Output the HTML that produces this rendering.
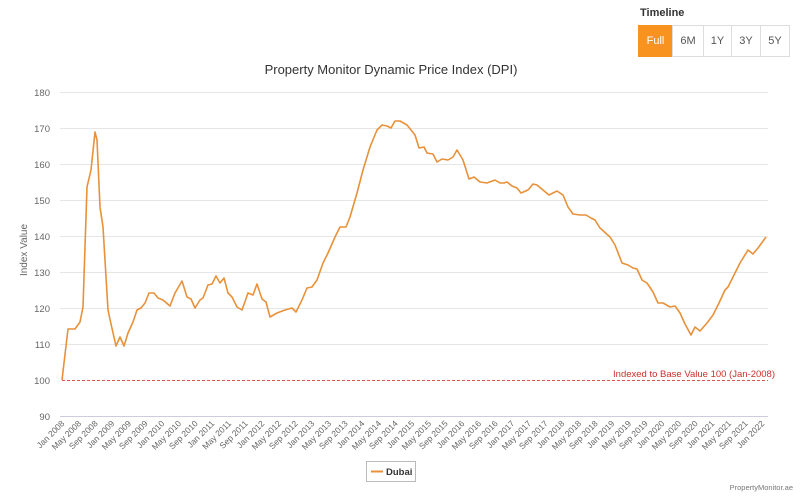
<!DOCTYPE html>
<html><head><meta charset="utf-8"><style>
body{margin:0;background:#fff;font-family:"Liberation Sans",sans-serif;}
.tl{position:absolute;left:640px;top:7px;font-size:11px;font-weight:bold;color:#333}
.btns{position:absolute;left:639px;top:25px;display:flex}
.btns div{height:30px;line-height:30px;border:1px solid #ddd;margin-left:-1px;text-align:center;font-size:11px;color:#555}
</style></head><body>
<div style="position:relative;width:800px;height:502px;overflow:hidden">
<div class="tl">Timeline</div>
<div class="btns">
<div style="width:33px;background:#f7931e;color:#fff;border-color:#f7931e">Full</div>
<div style="width:30px">6M</div><div style="width:27px">1Y</div><div style="width:28px">3Y</div><div style="width:28px">5Y</div>
</div>
<svg width="800" height="502" style="position:absolute;left:0;top:0" font-family="Liberation Sans, sans-serif">
<text x="391" y="74" text-anchor="middle" font-size="13" fill="#333">Property Monitor Dynamic Price Index (DPI)</text>
<g stroke="#e6e6e6" stroke-width="1">
<line x1="60" x2="768" y1="92.5" y2="92.5"/><line x1="60" x2="768" y1="128.5" y2="128.5"/>
<line x1="60" x2="768" y1="164.5" y2="164.5"/><line x1="60" x2="768" y1="200.5" y2="200.5"/>
<line x1="60" x2="768" y1="236.5" y2="236.5"/><line x1="60" x2="768" y1="272.5" y2="272.5"/>
<line x1="60" x2="768" y1="308.5" y2="308.5"/><line x1="60" x2="768" y1="344.5" y2="344.5"/>
<line x1="60" x2="768" y1="416.5" y2="416.5" stroke="#ccd"/>
</g>
<g font-size="9.5" fill="#666" text-anchor="end">
<text x="50" y="96">180</text><text x="50" y="132">170</text><text x="50" y="168">160</text>
<text x="50" y="204">150</text><text x="50" y="240">140</text><text x="50" y="276">130</text>
<text x="50" y="312">120</text><text x="50" y="348">110</text><text x="50" y="384">100</text><text x="50" y="420">90</text>
</g>
<text transform="translate(27,250) rotate(-90)" text-anchor="middle" font-size="10" fill="#666">Index Value</text>
<line x1="62" x2="768" y1="380.5" y2="380.5" stroke="#d9534f" stroke-dasharray="3,2"/>
<text x="775" y="377" text-anchor="end" font-size="9.5" fill="#c9302c">Indexed to Base Value 100 (Jan-2008)</text>
<polyline fill="none" stroke="#e8913a" stroke-width="1.6" stroke-linejoin="round" points="62,380 68,329 75,329 80,322 83,307 87,187 91,170 95,132 97,140 100,207 103,227 108,310 111,324 116,346 120,337 124,346 128,333 133,322 137,310 141,308 145,303 149,293 154,293 158,298 163,300 170,306 175,293 182,281 187,297 191,299 195,308 200,300 203,298 208,285 212,284 216,276 220,283 224,278 228,293 232,297 237,307 242,310 248,293 253,295 257,284 262,299 266,302 270,317 277,313 285,310 292,308 296,312 302,300 307,288 312,287 317,280 323,263 328,253 335,237 340,227 346,227 350,217 357,193 363,170 370,147 377,130 382,125 387,126 391,128 395,121 400,121 407,125 415,135 419,148 424,147 427,153 433,154 437,162 442,159 448,160 453,157 457,150 463,160 469,179 474,177 480,182 487,183 495,180 500,183 504,183 507,182 512,186 517,188 521,193 528,190 533,184 537,185 543,190 549,195 557,191 563,195 568,207 573,214 580,215 586,215 591,218 595,220 600,228 610,237 615,245 622,263 628,265 633,268 637,269 642,280 647,283 653,292 658,303 663,303 670,307 675,306 680,313 685,324 691,335 695,327 700,331 707,323 713,315 719,303 725,290 728,287 733,277 740,263 748,250 753,254 758,248 766,237"/>
<g font-size="8.5" fill="#666" id="xl"></g>
<rect x="366.5" y="461.5" width="49" height="20" fill="#fff" stroke="#bbb"/>
<line x1="371" x2="383" y1="471.5" y2="471.5" stroke="#e8913a" stroke-width="2"/>
<text x="386" y="475" font-size="9.5" font-weight="bold" fill="#333">Dubai</text>
<text x="793" y="490" text-anchor="end" font-size="7.5" fill="#777">PropertyMonitor.ae</text>
</svg>
<script>
var g=document.getElementById('xl'),m=['Jan','May','Sep'],s='';
for(var i=0;i<43;i++){var x=62+i*16.667,lab=m[i%3]+' '+(2008+Math.floor(i/3));
s+='<text transform="translate('+(x+3).toFixed(1)+',424) rotate(-45)" text-anchor="end">'+lab+'</text>';}
g.innerHTML=s;
</script>
</div>
</body></html>
